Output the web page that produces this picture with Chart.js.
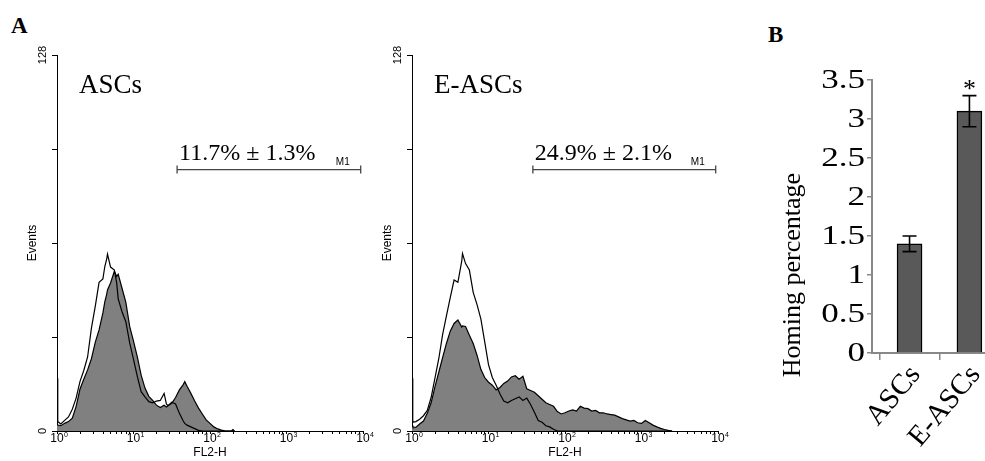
<!DOCTYPE html>
<html>
<head>
<meta charset="utf-8">
<script src="https://cdn.jsdelivr.net/npm/chart.js@4.4.1/dist/chart.umd.min.js"></script>
<style>
  html, body { margin: 0; padding: 0; background: #fff; overflow: hidden; }
  body { width: 985px; height: 461px; position: relative; }
  canvas { position: absolute; top: 0; }
  .panel-letter { position: absolute; font: bold 23px "Liberation Serif", serif; line-height: 1; }
</style>
</head>
<body>
<div class="panel-letter" style="left:11px;top:14px">A</div>
<div class="panel-letter" style="left:768px;top:23px">B</div>
<canvas id="histAscs" width="380" height="461" style="left:0"></canvas>
<canvas id="histEascs" width="380" height="461" style="left:380px"></canvas>
<canvas id="homingChart" width="225" height="461" style="left:760px"></canvas>
<script>
// ---- Panel A: FL2-H histograms (x in log10 decades, y in events) ----
const decades = [0, 1, 2, 3, 4];

const ascsChannel = [0, 0.01, 0.05, 0.1, 0.15, 0.2, 0.25, 0.3, 0.35, 0.4, 0.45, 0.5, 0.55, 0.6, 0.625, 0.65, 0.66,
  0.7, 0.75, 0.78, 0.8, 0.85, 0.9, 0.95, 1.0, 1.05, 1.1, 1.15, 1.2, 1.25, 1.3, 1.35, 1.4, 1.43, 1.45, 1.5,
  1.55, 1.6, 1.65, 1.67, 1.7, 1.75, 1.8, 1.85, 1.9, 1.95, 2.0, 2.05, 2.1, 2.15, 2.2, 2.28, 2.3, 2.32];
const ascsControl = [18, 3.2, 2.4, 3.6, 4.8, 7.4, 11.2, 16.8, 20.6, 25.2, 35.0, 42.4, 50.6, 51.8, 56.0, 58.6, 60.2,
  55.8, 54.8, 50.4, 45.0, 40.6, 37.2, 30.0, 24.4, 18.6, 13.4, 11.6, 10.0, 9.6, 10.2, 10.4, 12.8, 9.2, 8.6, 9.8,
  9.2, 6.0, 3.4, 2.6, 2.0, 1.4, 0.8, 0.2, 0, 0, 0, 0, 0, 0, 0, 0, 0, 0];
const ascsStained = [2.2, 2.0, 1.8, 2.6, 3.2, 4.4, 8.4, 14.2, 17.6, 20.8, 24.6, 30.2, 34.4, 40.2, 44.0, 46.6, 48.0,
  50.4, 54.4, 52.6, 53.4, 48.6, 43.8, 35.6, 30.6, 25.2, 19.0, 14.6, 11.8, 10.4, 8.8, 8.0, 8.8, 8.2, 8.6, 9.4,
  11.4, 14.0, 15.8, 16.8, 15.2, 12.8, 10.2, 7.8, 5.8, 3.8, 2.6, 1.4, 0.7, 0.3, 0, 0, 0.5, 0];

const eascsChannel = [0, 0.01, 0.05, 0.1, 0.15, 0.2, 0.25, 0.3, 0.35, 0.4, 0.45, 0.5, 0.55, 0.6, 0.65, 0.66,
  0.7, 0.75, 0.8, 0.85, 0.9, 0.95, 1.0, 1.05, 1.1, 1.15, 1.2, 1.25, 1.3, 1.35, 1.4, 1.45, 1.5, 1.55, 1.6, 1.65,
  1.7, 1.75, 1.8, 1.85, 1.9, 1.95, 2.0, 2.05, 2.1, 2.15, 2.2, 2.25, 2.3, 2.35, 2.4, 2.45, 2.5, 2.55, 2.6, 2.65,
  2.7, 2.75, 2.8, 2.85, 2.9, 2.95, 3.0, 3.05, 3.1, 3.15, 3.2, 3.25, 3.3, 3.35, 3.4];
const eascsControl = [18, 3.0, 3.2, 4.0, 5.2, 7.0, 11.4, 18.0, 24.6, 32.8, 39.2, 45.4, 51.4, 50.6, 57.8, 60.4,
  57.0, 54.8, 47.2, 43.0, 38.2, 30.4, 22.6, 18.2, 15.6, 12.6, 10.2, 9.6, 10.4, 11.0, 11.6, 10.4, 11.2, 9.0, 6.4, 3.6,
  3.0, 1.8, 1.4, 0.6, 0, 0, 0, 0, 0, 0, 0, 0, 0, 0, 0, 0, 0, 0, 0, 0,
  0, 0, 0, 0, 0, 0, 0, 0, 0, 0, 0, 0, 0, 0, 0];
const eascsStained = [2.0, 1.4, 1.2, 2.4, 3.4, 6.0, 9.6, 15.0, 20.0, 25.0, 29.8, 34.0, 36.6, 37.8, 35.4, 35.8,
  35.6, 32.6, 29.8, 25.8, 21.0, 18.2, 16.6, 15.6, 14.0, 14.8, 16.2, 17.0, 18.4, 18.8, 17.6, 18.6, 14.4, 13.8, 13.2, 12.0,
  10.8, 9.6, 9.0, 8.4, 6.6, 5.8, 6.2, 6.8, 7.2, 6.8, 8.4, 7.8, 7.6, 6.8, 7.0, 6.2, 6.2, 5.8, 5.6, 5.4,
  4.8, 4.2, 3.8, 3.4, 3.6, 2.8, 2.6, 3.6, 2.8, 2.0, 1.4, 0.9, 0.5, 0.2, 0];

// M1 marker: start/end decade and height in events
const gateAscs = [1.57, 3.97];
const gateEascs = [1.58, 3.97];
const gateHeight = 89;
const pctAscs = '11.7% \u00b1 1.3%';
const pctEascs = '24.9% \u00b1 2.1%';

// ---- Panel B: homing percentage ----
const groups = ['ASCs', 'E-ASCs'];
const homing = [1.4, 3.1];
const homingErr = [0.1, 0.2];
const significant = [false, true];

const SANS = '"Liberation Sans", Arial, sans-serif';
const SERIF = '"Liberation Serif", "Times New Roman", serif';

Chart.defaults.font.family = SANS;
Chart.defaults.color = '#000';

function pts(xs, ys) {
  return xs.map((x, i) => ({ x, y: ys[i] }));
}

const histText = {
  id: 'histText',
  afterDraw(chart, args, opts) {
    const { ctx, chartArea: area, scales: { x, y } } = chart;
    ctx.save();
    ctx.fillStyle = '#000';

    // decade labels 10^n
    decades.forEach(d => {
      const px = x.getPixelForValue(d);
      ctx.font = '12px ' + SANS;
      ctx.textAlign = 'center';
      ctx.textBaseline = 'alphabetic';
      ctx.fillText('10', px, area.bottom + 11);
      ctx.font = '7px ' + SANS;
      ctx.textAlign = 'left';
      ctx.fillText(String(d), px + 7, area.bottom + 6);
    });
    ctx.font = '12px ' + SANS;
    ctx.textAlign = 'center';
    ctx.fillText('FL2-H', (area.left + area.right) / 2, area.bottom + 25);

    const rotated = (text, px, py) => {
      ctx.save();
      ctx.translate(px, py);
      ctx.rotate(-Math.PI / 2);
      ctx.fillText(text, 0, 0);
      ctx.restore();
    };
    ctx.textBaseline = 'middle';
    ctx.font = '11px ' + SANS;
    rotated('128', area.left - 14, y.getPixelForValue(128));
    rotated('0', area.left - 14, y.getPixelForValue(0));
    ctx.font = '12px ' + SANS;
    rotated('Events', area.left - 24, (area.top + area.bottom) / 2);

    // sample name
    ctx.textBaseline = 'alphabetic';
    ctx.textAlign = 'left';
    ctx.font = '27px ' + SERIF;
    ctx.fillText(opts.name, area.left + 22, area.top + 38);

    // gate texts
    const gx0 = x.getPixelForValue(opts.gate[0]);
    const gx1 = x.getPixelForValue(opts.gate[1]);
    const gy = y.getPixelForValue(gateHeight);
    ctx.font = '24px ' + SERIF;
    ctx.fillText(opts.pct, gx0 + 2, gy - 10);
    ctx.font = '10px ' + SANS;
    ctx.textAlign = 'right';
    ctx.fillText('M1', gx1 - 11, gy - 5);
    ctx.restore();
  }
};

function makeHistogram(id, channel, control, stained, gate, name, pct, pad) {
  const minorTicks = [];
  for (let d = 0; d < 4; d++) {
    for (let k = 1; k < 10; k++) minorTicks.push(d + Math.log10(k));
  }
  minorTicks.push(4);

  return new Chart(document.getElementById(id), {
    type: 'line',
    data: {
      datasets: [
        {
          data: pts(channel, control),
          borderColor: '#000',
          borderWidth: 1.2,
          fill: false,
          pointRadius: 0,
          tension: 0
        },
        {
          data: pts(channel, stained),
          borderColor: '#000',
          borderWidth: 1.2,
          backgroundColor: '#808080',
          fill: 'origin',
          pointRadius: 0,
          tension: 0
        },
        {
          data: pts(gate, [gateHeight, gateHeight]),
          borderColor: '#444',
          borderWidth: 1.3,
          pointStyle: 'line',
          rotation: 90,
          pointRadius: 4,
          pointBorderColor: '#444',
          pointBorderWidth: 1.3,
          fill: false
        }
      ]
    },
    options: {
      responsive: false,
      animation: false,
      layout: { padding: pad },
      plugins: {
        legend: { display: false },
        tooltip: { enabled: false },
        histText: { name, pct, gate }
      },
      scales: {
        x: {
          type: 'linear',
          min: 0,
          max: 4,
          afterBuildTicks: s => { s.ticks = minorTicks.map(v => ({ value: v })); },
          afterFit: s => { s.height = 30; },
          ticks: { display: false },
          grid: { drawOnChartArea: false, tickLength: 3, color: '#000', lineWidth: 1 },
          border: { color: '#000', width: 1 }
        },
        y: {
          min: 0,
          max: 128,
          afterFit: s => { s.width = 20; },
          ticks: { display: false, stepSize: 32 },
          grid: { drawOnChartArea: false, tickLength: 5, color: '#000', lineWidth: 1 },
          border: { color: '#000', width: 1 }
        }
      }
    },
    plugins: [histText]
  });
}

makeHistogram('histAscs', ascsChannel, ascsControl, ascsStained, gateAscs, 'ASCs', pctAscs,
  { left: 37, right: 17, top: 55, bottom: 0 });
makeHistogram('histEascs', eascsChannel, eascsControl, eascsStained, gateEascs, 'E-ASCs', pctEascs,
  { left: 12, right: 42, top: 55, bottom: 0 });

// error bars, asterisk, y tick labels, rotated category labels and axis title
const barExtras = {
  id: 'barExtras',
  afterDatasetsDraw(chart) {
    const { ctx, scales: { x, y } } = chart;
    ctx.save();
    ctx.strokeStyle = '#000';
    ctx.lineWidth = 1.6;
    homing.forEach((v, i) => {
      const px = x.getPixelForValue(i + 0.5);
      const top = y.getPixelForValue(v + homingErr[i]);
      const bot = y.getPixelForValue(v - homingErr[i]);
      ctx.beginPath();
      ctx.moveTo(px, top); ctx.lineTo(px, bot);
      ctx.moveTo(px - 7, top); ctx.lineTo(px + 7, top);
      ctx.moveTo(px - 7, bot); ctx.lineTo(px + 7, bot);
      ctx.stroke();
      if (significant[i]) {
        ctx.fillStyle = '#000';
        ctx.font = '26px ' + SERIF;
        ctx.textAlign = 'center';
        ctx.textBaseline = 'alphabetic';
        ctx.fillText('*', px, top + 1);
      }
    });
    ctx.restore();
  },
  afterDraw(chart) {
    const { ctx, chartArea: area, scales: { x, y } } = chart;
    ctx.save();
    ctx.fillStyle = '#000';

    // y tick labels (wide serif look of the original)
    ctx.font = '27px ' + SERIF;
    ctx.textAlign = 'right';
    ctx.textBaseline = 'middle';
    y.ticks.forEach(t => {
      ctx.save();
      ctx.translate(area.left - 7, y.getPixelForValue(t.value) + 1);
      ctx.scale(1.3, 1);
      ctx.fillText(String(t.value), 0, 0);
      ctx.restore();
    });

    ctx.font = '29px ' + SERIF;
    groups.forEach((g, i) => {
      const px = x.getPixelForValue(i + 0.5);
      ctx.save();
      ctx.translate(px + 6, area.bottom + 17);
      ctx.rotate(-50 * Math.PI / 180);
      ctx.textAlign = 'right';
      ctx.textBaseline = 'middle';
      ctx.fillText(g, 0, 0);
      ctx.restore();
    });

    ctx.font = '26px ' + SERIF;
    ctx.translate(33, 275);
    ctx.rotate(-Math.PI / 2);
    ctx.textAlign = 'center';
    ctx.textBaseline = 'middle';
    ctx.fillText('Homing percentage', 0, 0);
    ctx.restore();
  }
};

new Chart(document.getElementById('homingChart'), {
  type: 'bar',
  data: {
    datasets: [{
      data: groups.map((g, i) => ({ x: i + 0.5, y: homing[i] })),
      backgroundColor: '#595959',
      borderColor: '#000',
      borderWidth: 1.5,
      barThickness: 25
    }]
  },
  options: {
    responsive: false,
    animation: false,
    layout: { padding: { left: 62, right: 0, top: 80, bottom: 0 } },
    plugins: { legend: { display: false }, tooltip: { enabled: false } },
    scales: {
      x: {
        type: 'linear',
        offset: false,
        min: -0.127,
        max: 1.76,
        afterBuildTicks: s => { s.ticks = [0, 1].map(v => ({ value: v })); },
        afterFit: s => { s.height = 108; },
        ticks: { display: false },
        grid: { offset: false, drawOnChartArea: false, tickLength: 7, color: '#888', lineWidth: 1.5 },
        border: { color: '#888', width: 2 }
      },
      y: {
        min: 0,
        max: 3.5,
        afterFit: s => { s.width = 50; },
        ticks: { display: false, stepSize: 0.5 },
        grid: { drawOnChartArea: false, tickLength: 5, color: '#888', lineWidth: 1.5 },
        border: { color: '#888', width: 2 }
      }
    }
  },
  plugins: [barExtras]
});
</script>
</body>
</html>
